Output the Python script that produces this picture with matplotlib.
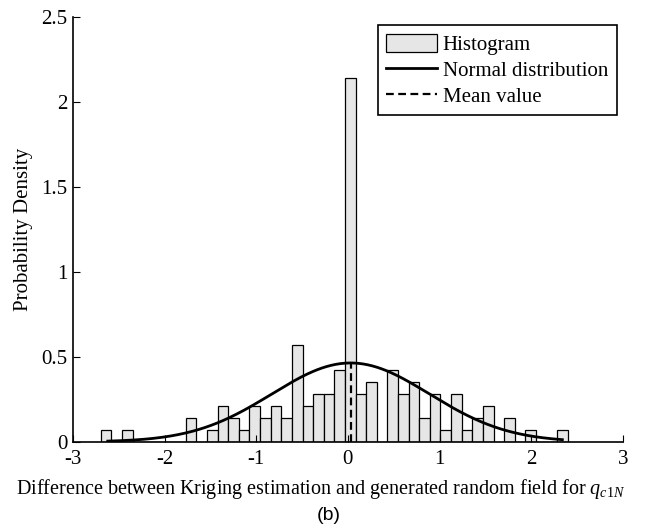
import numpy as np
import matplotlib
matplotlib.use("Agg")
import matplotlib.pyplot as plt
from matplotlib.patches import Patch
from matplotlib.lines import Line2D

plt.rcParams['font.family'] = ['Liberation Serif', 'DejaVu Serif']
plt.rcParams['mathtext.fontset'] = 'custom'
plt.rcParams['mathtext.rm'] = 'Liberation Serif'
plt.rcParams['mathtext.it'] = 'Liberation Serif:italic'
plt.rcParams['axes.unicode_minus'] = False

# histogram of the kriging error, density per bin (44 bins)
bin_lo = -2.695
bin_hi = 2.40
density = [0.07, 0.0, 0.07, 0.0, 0.0, 0.0, 0.0, 0.0, 0.14, 0.0,
           0.07, 0.21, 0.14, 0.07, 0.21, 0.14, 0.21, 0.14, 0.57, 0.21,
           0.28, 0.28, 0.42, 2.14, 0.28, 0.35, 0.0, 0.42, 0.28, 0.35,
           0.14, 0.28, 0.07, 0.28, 0.07, 0.14, 0.21, 0.0, 0.14, 0.0,
           0.07, 0.0, 0.0, 0.07]

# fitted normal distribution
mu = 0.03
sigma = 0.86
x_lo, x_hi = -2.62, 2.34

edges = np.linspace(bin_lo, bin_hi, len(density) + 1)
widths = np.diff(edges)

fig = plt.figure(figsize=(6.57, 5.31), dpi=100)
ax = fig.add_axes([0.111, 0.168, 0.837, 0.800])

ax.bar(edges[:-1], density, width=widths, align='edge',
       color='#e6e6e6', edgecolor='black', linewidth=0.9)

xs = np.linspace(x_lo, x_hi, 300)
pdf = np.exp(-0.5 * ((xs - mu) / sigma) ** 2) / (sigma * np.sqrt(2 * np.pi))
ax.plot(xs, pdf, color='black', lw=2)

peak = 1 / (sigma * np.sqrt(2 * np.pi))
ax.plot([mu, mu], [0, peak], color='black', lw=1.6, ls=(0, (3.5, 2)))

ax.set_xlim(-3, 3)
ax.set_ylim(0, 2.5)
ax.set_xticks(range(-3, 4))
ax.set_yticks([0, 0.5, 1, 1.5, 2, 2.5])
ax.set_yticklabels(['0', '0.5', '1', '1.5', '2', '2.5'])
ax.tick_params(direction='in', length=5, width=0.8, labelsize=15)
ax.tick_params(axis='x', pad=6)
ax.tick_params(axis='y', pad=4)
ax.spines['top'].set_visible(False)
ax.spines['right'].set_visible(False)
ax.spines['left'].set_linewidth(1.2)
ax.spines['bottom'].set_linewidth(1.2)

ax.set_ylabel('Probability Density', fontsize=15, labelpad=6)
ax.set_xlabel(r'Difference between Kriging estimation and generated random field for $q_{\mathit{c1N}}$',
              fontsize=14.5, labelpad=5)
ax.xaxis.set_label_coords(0.45, -0.083)

handles = [Patch(facecolor='#e6e6e6', edgecolor='black', linewidth=0.9),
           Line2D([], [], color='black', lw=2),
           Line2D([], [], color='black', lw=1.6, ls=(0, (3.5, 2)))]
leg = ax.legend(handles, ['Histogram', 'Normal distribution', 'Mean value'],
                loc='upper right', bbox_to_anchor=(0.989, 0.98), fontsize=15,
                fancybox=False, framealpha=1, edgecolor='black',
                handlelength=2.45, handleheight=0.9, handletextpad=0.25,
                borderpad=0.42, labelspacing=0.24, borderaxespad=0)
leg.get_frame().set_linewidth(1.2)

fig.text(0.5, 0.03, '(b)', ha='center', va='center', fontsize=14,
         family='Liberation Sans')

fig.savefig('out.png', dpi=100)
